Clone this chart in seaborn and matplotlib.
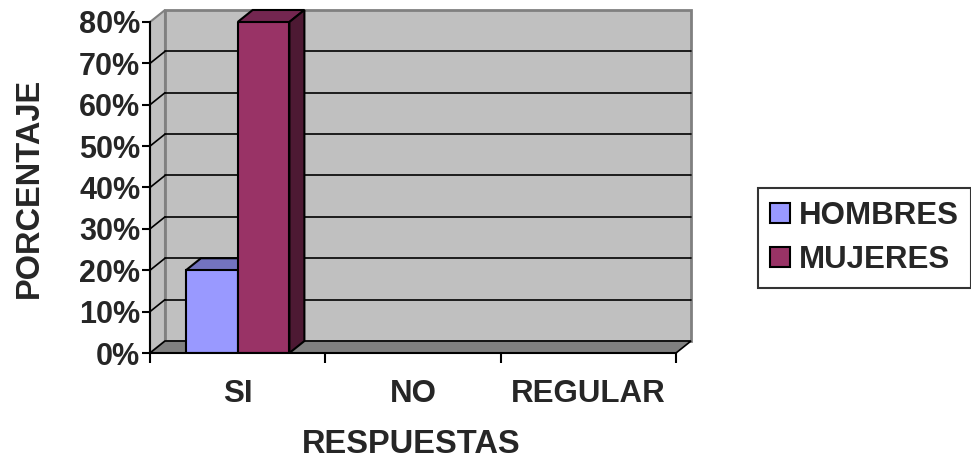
import matplotlib
matplotlib.use("Agg")
import matplotlib.pyplot as plt
from matplotlib.patches import Polygon, Patch
from matplotlib.ticker import FuncFormatter
import seaborn as sns
import pandas as pd

categorias = ["SI", "NO", "REGULAR"]
hombres = [20, 0, 0]
mujeres = [80, 0, 0]
series = ["HOMBRES", "MUJERES"]
yticks = [0, 10, 20, 30, 40, 50, 60, 70, 80]

df = pd.DataFrame({
    "respuesta": categorias * 2,
    "sexo": ["HOMBRES"] * 3 + ["MUJERES"] * 3,
    "porcentaje": hombres + mujeres,
})

sns.set_theme(style="white")
plt.rcParams["font.family"] = ["Liberation Sans", "DejaVu Sans"]
plt.rcParams["font.weight"] = "bold"

front = {"HOMBRES": "#9999FF", "MUJERES": "#993366"}
top = {"HOMBRES": "#7373BF", "MUJERES": "#732650"}
side = {"HOMBRES": "#4D4D80", "MUJERES": "#4D1933"}

fig = plt.figure(figsize=(9.71, 4.61), dpi=100)
ax = fig.add_axes([150 / 971, 108 / 461, 526 / 971, 331 / 461])

sns.barplot(data=df, x="respuesta", y="porcentaje", hue="sexo", order=categorias,
            hue_order=series, palette=front, width=0.59, saturation=1,
            edgecolor="black", linewidth=1.5, legend=False, ax=ax, zorder=5)

ax.set_xlim(-0.5, 2.5)
ax.set_ylim(0, 80)

# depth offset (data units)
dx = 15 / 526 * 3
dy = 12 / 331 * 80
x0, x1 = -0.5, 2.5
ymax = 80

# walls and floor
ax.add_patch(Polygon([(x0, 0), (x0, ymax), (x0 + dx, ymax + dy), (x0 + dx, dy)],
                     closed=True, facecolor="#C0C0C0", edgecolor="#808080", lw=1.5,
                     zorder=1, clip_on=False))
ax.add_patch(Polygon([(x0 + dx, dy), (x1 + dx, dy), (x1 + dx, ymax + dy), (x0 + dx, ymax + dy)],
                     closed=True, facecolor="#C0C0C0", edgecolor="#808080", lw=2,
                     zorder=1, clip_on=False))
ax.add_patch(Polygon([(x0, 0), (x1, 0), (x1 + dx, dy), (x0 + dx, dy)],
                     closed=True, facecolor="#808080", edgecolor="black", lw=1.2,
                     zorder=2, clip_on=False))
for v in yticks[1:-1]:
    ax.plot([x0 + dx, x1 + dx], [v + dy, v + dy], color="black", lw=1.2, zorder=2, clip_on=False)
    ax.plot([x0, x0 + dx], [v, v + dy], color="black", lw=1.2, zorder=2, clip_on=False)

# 3D faces on bars
for cont, name in zip(ax.containers, series):
    for bar in cont:
        h = bar.get_height()
        if h <= 0:
            bar.set_visible(False)
            continue
        bx, bw = bar.get_x(), bar.get_width()
        ax.add_patch(Polygon([(bx, h), (bx + bw, h), (bx + bw + dx, h + dy), (bx + dx, h + dy)],
                             closed=True, facecolor=top[name], edgecolor="black", lw=1.5,
                             zorder=4, clip_on=False))
        ax.add_patch(Polygon([(bx + bw, 0), (bx + bw + dx, dy), (bx + bw + dx, h + dy), (bx + bw, h)],
                             closed=True, facecolor=side[name], edgecolor="black", lw=1.5,
                             zorder=4, clip_on=False))

# spines
for s in ["top", "right"]:
    ax.spines[s].set_visible(False)
for s in ["left", "bottom"]:
    ax.spines[s].set_color("black")
    ax.spines[s].set_linewidth(1.5)
    ax.spines[s].set_zorder(6)

ax.set_yticks(yticks)
ax.yaxis.set_major_formatter(FuncFormatter(lambda v, p: f"{int(v)}%"))
ax.tick_params(axis="y", length=6, width=1.5, color="black", pad=1, labelsize=22, left=True)

ax.set_xticks([-0.5, 0.5, 1.5, 2.5])
ax.set_xticklabels([])
ax.set_xticks([0, 1, 2], minor=True)
ax.set_xticklabels(categorias, minor=True)
ax.tick_params(axis="x", which="major", length=7, width=1.5, color="black", bottom=True)
ax.tick_params(axis="x", which="minor", length=0, pad=19, labelsize=22.5)
for t in ax.get_yticklabels() + ax.get_xticklabels(minor=True):
    t.set_fontweight("bold")
ax.set_xlabel("")
ax.set_ylabel("")

fig.text(29 / 971, 1 - 188 / 461, "PORCENTAJE", rotation=90, ha="center", va="center",
         fontsize=23.5, fontweight="bold")
fig.text(411 / 971, 1 - 444 / 461, "RESPUESTAS", ha="center", va="center",
         fontsize=23.5, fontweight="bold")

handles = [Patch(facecolor=front[n], edgecolor="black", lw=1.5) for n in series]
leg = fig.legend(handles, series, loc="center",
                 bbox_to_anchor=((762 + 967) / 2 / 971, 1 - 238 / 461),
                 prop={"size": 22.5, "weight": "bold"}, frameon=True, fancybox=False,
                 handlelength=0.62, handleheight=0.62, handletextpad=0.3,
                 labelspacing=0.45, borderpad=0.4, borderaxespad=0)
leg.get_frame().set_edgecolor("black")
leg.get_frame().set_linewidth(1.5)

fig.savefig("out.png", dpi=100, facecolor="white")
